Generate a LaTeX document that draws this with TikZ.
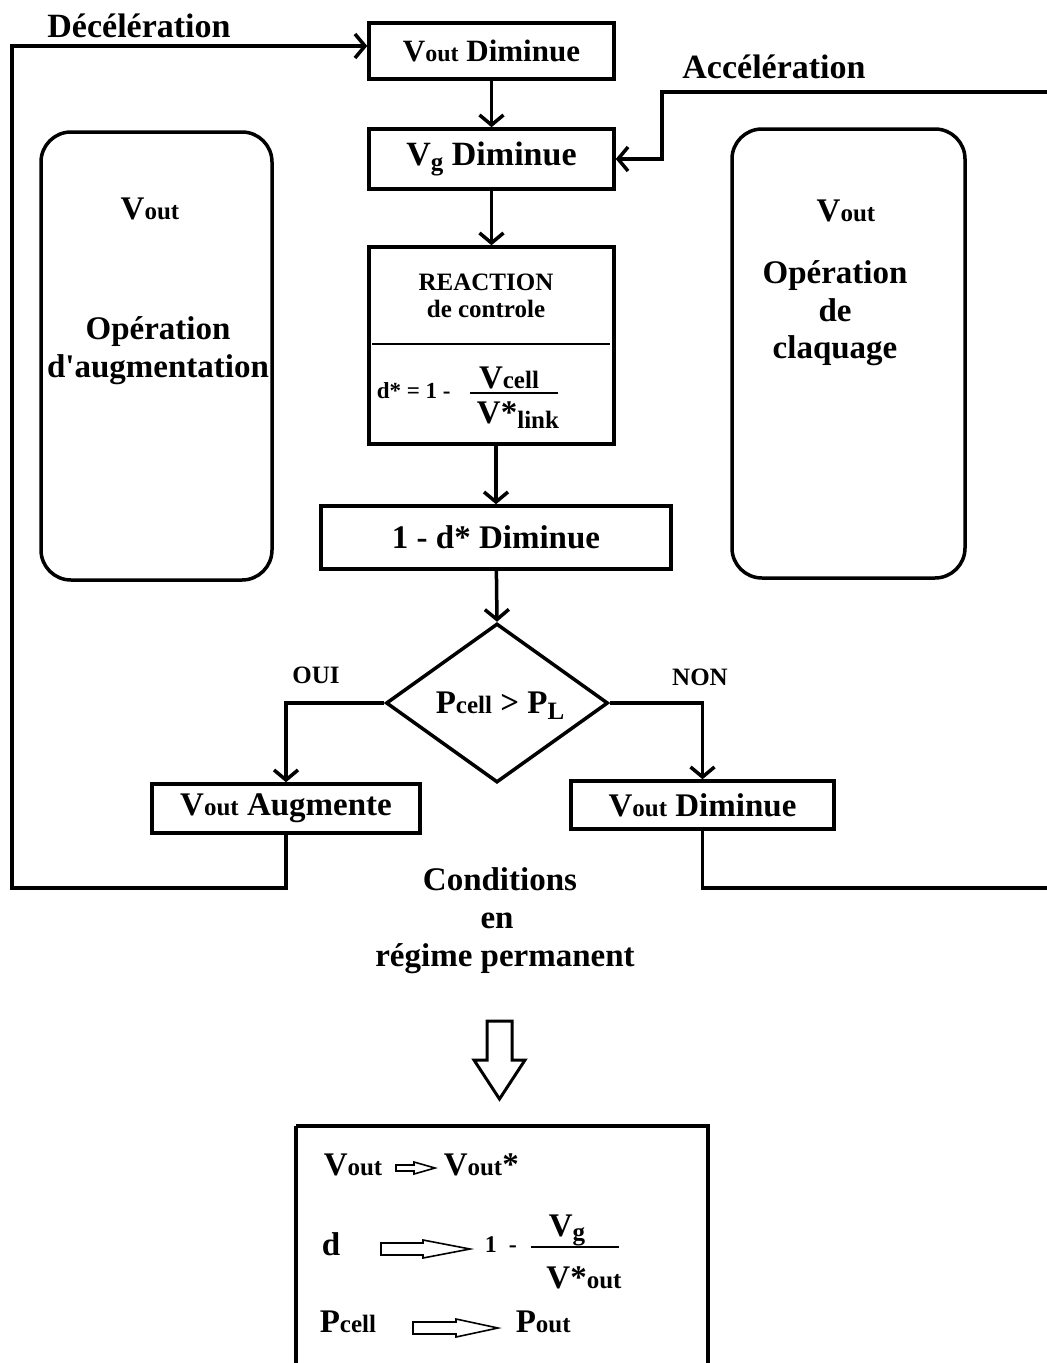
\documentclass[tikz,border=0pt]{standalone}
\usepackage{fontspec}
\setmainfont{Liberation Serif}[Ligatures=TeXOff]
\usetikzlibrary{arrows.meta,shapes.geometric}

\newcommand\fs[1]{\fontsize{#1}{#1}\selectfont}
\newcommand\lo[1]{{\fs{25}#1}}

\begin{document}
\begin{tikzpicture}[x=1pt,y=-1pt,
  line width=3.5pt,
  box/.style={draw, line width=3.5pt, inner sep=0pt, font=\fs{33}\bfseries},
  rbox/.style={draw, line width=3.5pt, rounded corners=30pt, inner sep=0pt},
  txt/.style={inner sep=0pt, anchor=base, font=\fs{33}\bfseries},
  small/.style={inner sep=0pt, anchor=base, font=\fs{25}\bfseries},
  lft/.style={inner sep=0pt, anchor=base west, font=\fs{33}\bfseries},
  arr/.style={-{Straight Barb[length=10pt,width=24pt,line width=3.5pt]}},
  hol/.style={draw, line width=1.6pt, line join=miter},
]
\clip (0,0) rectangle (1047,1363);
\fill[white] (0,0) rectangle (1047,1363);

% main column of the flow chart
\node[box, minimum width=245pt, minimum height=56pt, font=\fs{31}\bfseries] (top) at (491.5,51) {V{\fs{24}out} Diminue};
\node[box, minimum width=245pt, minimum height=60pt, font=\fs{34}\bfseries] (vg) at (491.5,159) {V\raisebox{-5pt}{\lo{g}} Diminue};
\node[box, minimum width=245pt, minimum height=197pt] (react) at (491.5,345.5) {};
\node[box, minimum width=350pt, minimum height=63pt] (dminus) at (496,537.5) {1 - d* Diminue};
\node[draw, diamond, line width=3.5pt, inner sep=0pt, minimum width=222pt, minimum height=159pt] (dec) at (497,703) {};
\node[txt] (cond) at (500,713) {P\lo{cell} > P\raisebox{-6pt}{\lo{L}}};
\node[box, minimum width=268pt, minimum height=49pt] (aug) at (286,808.5) {V\lo{out} Augmente};
\node[box, minimum width=263pt, minimum height=48pt] (dim2) at (702.5,805) {V\lo{out} Diminue};

% contents of the control block
\node[small] (rtitle) at (486,290) {REACTION};
\node[small] (rsub) at (486,317) {de controle};
\draw[line width=2pt] (372,344) -- (610,344);
\node[inner sep=0pt, anchor=base west, font=\fs{23}\bfseries] (dstar) at (375,398) {d* = 1 -};
\node[txt] (vcell) at (509,388) {V\lo{cell}};
\draw[line width=2pt] (470,393) -- (558,393);
\node[txt] (vlink) at (518,423) {V*\raisebox{-5pt}{\lo{link}}};

% side panels
\node[rbox, minimum width=231pt, minimum height=448pt] (lpanel) at (156.5,356) {};
\node[txt] (lv) at (150,219) {V\lo{out}};
\node[txt] (lop) at (158,339) {Opération};
\node[txt] (laug) at (158,377) {d'augmentation};

\node[rbox, minimum width=233pt, minimum height=449pt] (rpanel) at (848.5,353.5) {};
\node[txt] (rv) at (846,221) {V\lo{out}};
\node[txt] (rop) at (835,283) {Opération};
\node[txt] (rde) at (835,321) {de};
\node[txt] (rcl) at (835,358) {claquage};

% labels
\node[txt, font=\fs{34}\bfseries] (decel) at (139,37) {Décélération};
\node[txt, font=\fs{34}\bfseries] (accel) at (774,78) {Accélération};
\node[small] (oui) at (316,683) {OUI};
\node[small] (non) at (700,685) {NON};
\node[txt] (c1) at (500,890) {Conditions};
\node[txt] (c2) at (497,928) {en};
\node[txt] (c3) at (505,966) {régime permanent};

% connectors
\draw[arr] (top) -- (vg);
\draw[arr] (vg) -- (react);
\draw[arr] (react.south -| dminus.north) -- (dminus.north);
\draw[arr] (dminus) -- (dec.north);
\draw[arr] (dec.west) -| (aug.north);
\draw[arr] (dec.east) -| (dim2.north);

\coordinate (lc) at (12,888);
\draw[arr] (aug.south) |- (lc) |- ([yshift=5pt]top.west);
\coordinate (rc) at (1050,888);
\draw (dim2.south) |- (rc);
\coordinate (ra) at (1050,92);
\coordinate (rb) at (662,92);
\draw[arr] (ra) -- (rb) |- (vg.east);

% hollow arrow towards the result block
\draw[hol, line width=3pt] (487,1021) -- (512,1021) -- (512,1060) -- (525,1060) -- (499.5,1099)
  -- (474,1060) -- (487,1060) -- cycle;

% result block
\draw (296,1126) -- (708,1126) -- (708,1380) (296,1126) -- (296,1380);
\node[lft] (r1a) at (322,1175) {V\lo{out}};
\draw[hol] (396,1165) -- (414,1165) -- (414,1162) -- (435,1168) -- (414,1174) -- (414,1171) -- (396,1171) -- cycle;
\node[lft] (r1b) at (442,1175) {V\lo{out}*};

\node[lft] (r2a) at (320,1255) {d};
\draw[hol] (381,1243) -- (423,1243) -- (423,1240) -- (470,1249) -- (423,1258) -- (423,1255) -- (381,1255) -- cycle;
\node[inner sep=0pt, anchor=base west, font=\fs{24}\bfseries] (r2b) at (483,1252) {1\,\,\,-};
\node[txt] (r2c) at (567,1236) {V\raisebox{-4pt}{\lo{g}}};
\draw[line width=2pt] (531,1247) -- (619,1247);
\node[txt] (r2d) at (584,1288) {V*\lo{out}};

\node[lft] (r3a) at (318,1332) {P\lo{cell}};
\draw[hol] (413,1322) -- (456,1322) -- (456,1319) -- (498,1328) -- (456,1337) -- (456,1334) -- (413,1334) -- cycle;
\node[lft] (r3b) at (514,1332) {P\lo{out}};
\end{tikzpicture}
\end{document}
